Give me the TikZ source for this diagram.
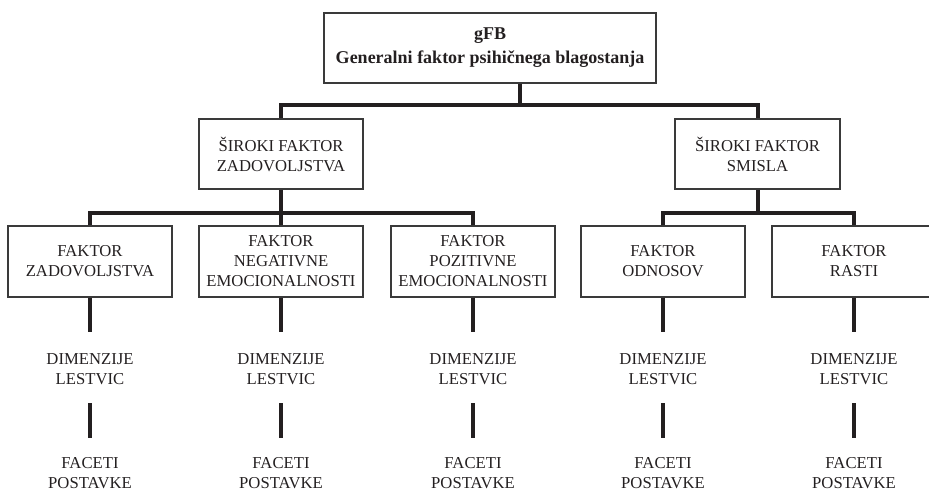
\documentclass[tikz,border=0pt]{standalone}
\usepackage{fontspec}
\setmainfont{Liberation Serif}
\definecolor{ink}{HTML}{231F20}
\definecolor{boxc}{HTML}{3A3A3A}
\begin{document}
\begin{tikzpicture}[x=0.75pt,y=-0.75pt,
  every node/.style={font=\fontsize{12.5}{15}\selectfont, text=ink, align=center, inner sep=0pt},
  box/.style={draw=boxc, line width=1.1pt, minimum width=123pt, minimum height=53pt},
  conn/.style={draw=ink, line width=3pt, line join=miter},
  stub/.style={draw=ink, line width=2.5pt},
  lvl/.style={}]
\useasboundingbox (0,0) rectangle (929,492);
% top
\node[box, minimum width=249pt, minimum height=52.5pt, font=\fontsize{13.5}{18}\selectfont\bfseries] (top) at (490,48) {gFB\\Generalni faktor psihičnega blagostanja};
% middle
\node[box, minimum height=52.5pt] (mL) at (281,154) {ŠIROKI FAKTOR\\ZADOVOLJSTVA};
\node[box, minimum width=124pt, minimum height=52.5pt] (mR) at (757.5,154) {ŠIROKI FAKTOR\\SMISLA};
% bottom boxes
\node[box] (b1) at (90,261.5) {FAKTOR\\ZADOVOLJSTVA};
\node[box] (b2) at (281,261.5) {FAKTOR\\NEGATIVNE\\EMOCIONALNOSTI};
\node[box] (b3) at (473,261.5) {FAKTOR\\POZITIVNE\\EMOCIONALNOSTI};
\node[box] (b4) at (663,261.5) {FAKTOR\\ODNOSOV};
\node[box] (b5) at (854,261.5) {FAKTOR\\RASTI};
% lower levels
\foreach \i in {1,...,5}{
  \node[lvl] (d\i) at (b\i.south |- 0,369.5) {DIMENZIJE\\LESTVIC};
  \node[lvl] (f\i) at (b\i.south |- 0,473) {FACETI\\POSTAVKE};
  \draw[stub] (b\i.south) -- (b\i.south |- 0,332);
  \draw[stub] (d\i.south |- 0,403) -- (f\i.north |- 0,438);
}
% connectors
\coordinate (j0) at (520,105);
\coordinate (j1) at (281,213);
\coordinate (j2) at (758,213);
\draw[conn] (top.south -| j0) -- (j0);
\draw[conn] (mL.north) |- (j0) -| (mR.north);
\draw[conn] (mL.south) -- (j1);
\draw[conn] (b1.north) |- (j1) -| (b3.north);
\draw[conn] (j1) -- (b2.north);
\draw[conn] (mR.south -| j2) -- (j2);
\draw[conn] (b4.north) |- (j2) -| (b5.north);
\end{tikzpicture}
\end{document}
